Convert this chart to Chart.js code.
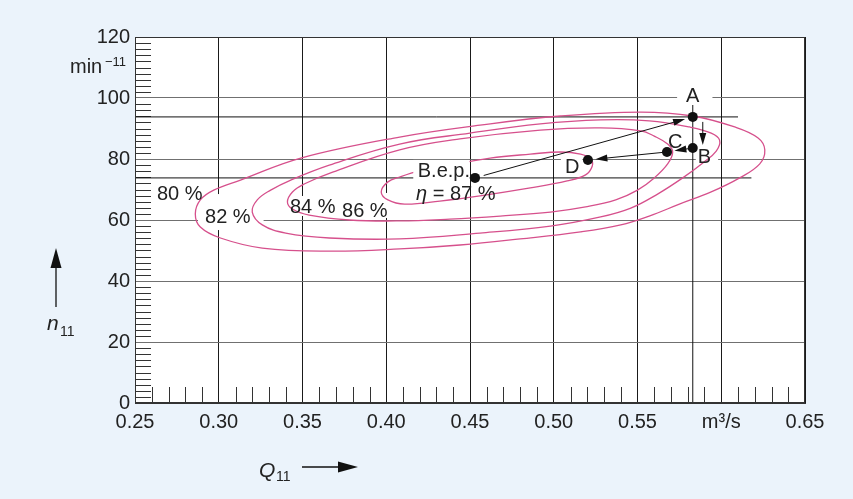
<!DOCTYPE html>
<html><head><meta charset="utf-8">
<script src="https://cdn.jsdelivr.net/npm/chart.js@4.4.1/dist/chart.umd.min.js"></script>
<style>html,body{margin:0;padding:0;background:#EBF3FB;}canvas{display:block;}</style>
</head><body>
<canvas id="c" width="853" height="499"></canvas>
<script>
// ---- data ----
const xTicks = [0.25, 0.30, 0.35, 0.40, 0.45, 0.50, 0.55, 0.60, 0.65];
const xTickLabels = ['0.25', '0.30', '0.35', '0.40', '0.45', '0.50', '0.55', 'm³/s', '0.65'];
const yTicks = [0, 20, 40, 60, 80, 100, 120];
const yTickLabels = ['0', '20', '40', '60', '80', '100', '120'];

// efficiency contours (Q11 in m3/s, n11 in min-1)
const eta80Q = [0.408,0.366,0.326,0.301,0.289,0.286,0.289,0.297,0.313,0.349,0.408,0.456,0.504,0.552,0.583,0.608,0.622,0.626,0.623,0.611,0.594,0.575,0.557,0.540,0.516,0.480,0.444,0.408];
const eta80N = [50.5,49.8,50.8,54.1,57.7,62.0,66.6,69.8,73.1,80.3,87.2,91.1,94.1,95.4,94.1,90.5,86.9,83.0,78.4,73.8,69.2,65.2,61.3,58.4,56.1,53.8,51.8,50.5];
const eta82Q = [0.408,0.366,0.340,0.326,0.320,0.323,0.331,0.343,0.366,0.408,0.450,0.492,0.528,0.557,0.581,0.594,0.599,0.597,0.589,0.577,0.562,0.546,0.528,0.498,0.456,0.408];
const eta82N = [53.8,54.1,55.7,58.4,62.6,66.6,69.8,73.1,78.0,84.9,88.5,91.5,92.8,92.5,90.5,88.5,86.2,82.6,78.7,73.8,68.5,63.9,61.0,58.0,55.7,53.8];
const eta84Q = [0.408,0.378,0.354,0.344,0.341,0.344,0.351,0.368,0.408,0.444,0.492,0.528,0.552,0.560,0.568,0.571,0.568,0.560,0.550,0.537,0.519,0.498,0.468,0.438,0.408];
const eta84N = [59.7,60.0,61.6,63.6,65.9,69.2,71.8,75.7,83.0,86.6,89.5,90.2,89.2,87.5,84.9,82.3,78.4,73.8,69.8,66.6,64.3,62.6,61.3,60.3,59.7];
const eta86Q = [0.432,0.411,0.401,0.397,0.401,0.408,0.420,0.438,0.462,0.486,0.504,0.516,0.522,0.523,0.519,0.508,0.486,0.456,0.432];
const eta86N = [66.2,65.2,66.6,69.2,72.5,74.1,76.1,78.0,80.3,81.6,82.3,81.6,80.0,77.7,74.8,72.8,70.5,67.9,66.2];
const contourLabels = ['80 %', '82 %', '84 %', '86 %'];
const contourLabelQ = [0.2631, 0.2918, 0.3425, 0.3736];
const contourLabelN = [66.6, 59.0, 62.3, 61.0];

// operating points
const pointNames = ['A', 'B', 'C', 'D', 'B.e.p.'];
const pointQ = [0.583, 0.583, 0.5676, 0.5204, 0.453];
const pointN = [93.8, 83.6, 82.3, 79.7, 73.8];
const bepText = ['η', ' = 87 %'];
// guide lines
const guideAEndQ = 0.610;
const guideBepEndQ = 0.618;
const guideVTopN = 97.7;
// arrows (from -> to, indices into pointNames)
const arrowFrom = [4, 0, 1, 2];
const arrowTo   = [0, 1, 2, 3];

// ---- styling ----
const FONT = '"Liberation Sans", Arial, Helvetica, sans-serif';
const PINK = '#D6508C';
const TXT = '#222';

const xy = (q, n) => q.map((v, i) => ({x: v, y: n[i]}));
// closed contour: repeat two points past the start so the loop joins smoothly,
// hiding the first and the last (duplicate) segment
const contourDs = (q, n) => {
  const pts = xy(q, n);
  const m = pts.length;
  const data = pts.concat([pts[1], pts[2]]);
  return {data, showLine: true, borderColor: PINK, borderWidth: 1.3,
    pointRadius: 0, pointHoverRadius: 0, tension: 0.4, fill: false,
    segment: {borderColor: c => (c.p0DataIndex === 0 || c.p0DataIndex >= m) ? 'rgba(0,0,0,0)' : PINK}};
};
const guideDs = (pts) => ({data: pts, showLine: true, borderColor: '#111', borderWidth: 1,
  pointRadius: 0, pointHoverRadius: 0, tension: 0, fill: false});

function arrow(ctx, x1, y1, x2, y2, hl, hw) {
  const dx = x2 - x1, dy = y2 - y1, L = Math.hypot(dx, dy), ux = dx / L, uy = dy / L;
  ctx.beginPath(); ctx.moveTo(x1, y1); ctx.lineTo(x2 - ux * hl * 0.8, y2 - uy * hl * 0.8); ctx.stroke();
  ctx.beginPath(); ctx.moveTo(x2, y2);
  ctx.lineTo(x2 - ux * hl - uy * hw, y2 - uy * hl + ux * hw);
  ctx.lineTo(x2 - ux * hl + uy * hw, y2 - uy * hl - ux * hw);
  ctx.closePath(); ctx.fill();
}

function labelSpecs(chart) {
  const {x, y} = chart.scales;
  const px = i => x.getPixelForValue(pointQ[i]), py = i => y.getPixelForValue(pointN[i]);
  const cl = i => ({x: x.getPixelForValue(contourLabelQ[i]), y: y.getPixelForValue(contourLabelN[i])});
  return [
    {t: contourLabels[0], ...cl(0), align: 'left', bg: null},
    {t: contourLabels[1], ...cl(1), align: 'left', bg: [7, 15, 13, 7]},
    {t: contourLabels[2], ...cl(2), align: 'left', bg: [1, 3, 2, 3]},
    {t: contourLabels[3], ...cl(3), align: 'left', bg: [2, 10, 2, 1]},
    {t: pointNames[0], x: px(0), y: py(0) - 15, align: 'center', bg: [9, 2, 13, 2]},
    {t: pointNames[1], x: px(1) + 5, y: py(1) + 15, align: 'left', bg: [2, 2, 7, 3]},
    {t: pointNames[2], x: px(2) + 1, y: py(2) - 4, align: 'left', bg: null},
    {t: pointNames[3], x: px(3) - 23, y: py(3) + 13, align: 'left', bg: [4, 4, 3, 3]},
  ];
}
function boxOf(ctx, s) {
  const w = ctx.measureText(s.t).width, cap = 14;
  const left = s.align === 'center' ? s.x - w / 2 : s.x;
  return [left - s.bg[0], s.y - cap - s.bg[1], w + s.bg[0] + s.bg[2], cap + s.bg[1] + s.bg[3]];
}

const deco = {
  id: 'deco',
  beforeDraw(chart) {
    const {ctx, chartArea: a} = chart;
    ctx.save();
    ctx.fillStyle = '#EBF3FB'; ctx.fillRect(0, 0, chart.width, chart.height);
    ctx.fillStyle = '#fff'; ctx.fillRect(a.left, a.top, a.right - a.left, a.bottom - a.top);
    ctx.restore();
  },
  beforeDatasetsDraw(chart) {
    const {ctx, chartArea: a, scales: {x, y}} = chart;
    ctx.save();
    ctx.strokeStyle = '#333'; ctx.lineWidth = 1;
    ctx.beginPath();
    for (let k = 1; k < 60; k++) {
      if (k % 10 === 0) continue;
      const p = Math.round(y.getPixelForValue(k * 2)) + 0.5;
      ctx.moveTo(a.left, p); ctx.lineTo(a.left + 16, p);
    }
    for (let k = 26; k < 65; k++) {
      if (k % 5 === 0) continue;
      const p = Math.round(x.getPixelForValue(k / 100)) + 0.5;
      ctx.moveTo(p, a.bottom); ctx.lineTo(p, a.bottom - 16);
    }
    ctx.stroke();
    ctx.font = '20px ' + FONT;
    ctx.fillStyle = '#fff';
    for (const s of labelSpecs(chart)) {
      if (!s.bg) continue;
      const b = boxOf(ctx, s);
      ctx.fillRect(b[0], b[1], b[2], b[3]);
    }
    ctx.restore();
  },
  afterDatasetsDraw(chart) {
    const {ctx, scales: {x, y}} = chart;
    const px = i => x.getPixelForValue(pointQ[i]), py = i => y.getPixelForValue(pointN[i]);
    ctx.save();
    ctx.strokeStyle = '#111'; ctx.fillStyle = '#111'; ctx.lineWidth = 1;
    for (let k = 0; k < arrowFrom.length; k++) {
      const i = arrowFrom[k], j = arrowTo[k];
      let x1 = px(i), y1 = py(i), x2 = px(j), y2 = py(j);
      if (i === 0 && j === 1) {
        arrow(ctx, x1 + 10, y1 + 5, x2 + 10, y2 - 3, 12, 3.5);
        continue;
      }
      const L = Math.hypot(x2 - x1, y2 - y1), ux = (x2 - x1) / L, uy = (y2 - y1) / L;
      const s0 = i === 4 ? 9 : 4, s1 = j === 0 ? 8 : 7.5;
      arrow(ctx, x1 + ux * s0, y1 + uy * s0, x2 - ux * s1, y2 - uy * s1, 12, 3.5);
    }
    ctx.font = '20px ' + FONT; ctx.fillStyle = TXT; ctx.textBaseline = 'alphabetic';
    for (const s of labelSpecs(chart)) {
      ctx.textAlign = s.align; ctx.fillText(s.t, s.x, s.y);
    }
    const bx = px(4), by = py(4);
    ctx.textAlign = 'right';
    const w = ctx.measureText(pointNames[4]).width;
    ctx.fillStyle = '#fff';
    ctx.fillRect(bx - 5.5 - w - 4, by - 18, w + 4, 22);
    ctx.fillStyle = TXT;
    ctx.fillText(pointNames[4], bx - 5, by - 1);
    ctx.textAlign = 'left';
    ctx.font = 'italic 20px ' + FONT;
    ctx.fillText(bepText[0], bx - 59, by + 22);
    const we = ctx.measureText(bepText[0]).width;
    ctx.font = '20px ' + FONT;
    ctx.fillText(bepText[1], bx - 59 + we, by + 22);
    ctx.restore();
  },
  afterDraw(chart) {
    const {ctx, chartArea: a} = chart;
    ctx.save();
    ctx.strokeStyle = '#333'; ctx.lineWidth = 1;
    ctx.strokeRect(Math.round(a.left) + 0.5, Math.round(a.top) + 0.5, Math.round(a.right - a.left) - 1, Math.round(a.bottom - a.top) - 1);
    ctx.fillStyle = TXT; ctx.textAlign = 'left'; ctx.textBaseline = 'alphabetic';
    ctx.font = '20px ' + FONT; ctx.fillText('min', 70, 73);
    ctx.font = '13px ' + FONT; ctx.fillText('−11', 105, 66);
    ctx.font = 'italic 21px ' + FONT; ctx.fillText('n', 47, 330);
    ctx.font = '14px ' + FONT; ctx.fillText('11', 60, 336);
    ctx.fillStyle = '#111'; ctx.strokeStyle = '#111'; ctx.lineWidth = 1.3;
    arrow(ctx, 56, 307, 56, 248, 20, 5.5);
    ctx.fillStyle = TXT;
    ctx.font = 'italic 21px ' + FONT; ctx.fillText('Q', 259, 477);
    ctx.font = '14px ' + FONT; ctx.fillText('11', 276, 481);
    ctx.fillStyle = '#111';
    arrow(ctx, 302, 467, 358, 467, 20, 5.5);
    ctx.restore();
  }
};

new Chart(document.getElementById('c'), {
  type: 'scatter',
  data: {
    datasets: [
      {data: xy(pointQ, pointN), pointRadius: 5, pointHoverRadius: 5, backgroundColor: '#111', borderWidth: 0, showLine: false},
      contourDs(eta86Q, eta86N),
      contourDs(eta84Q, eta84N),
      contourDs(eta82Q, eta82N),
      contourDs(eta80Q, eta80N),
      guideDs([{x: xTicks[0], y: pointN[0]}, {x: guideAEndQ, y: pointN[0]}]),
      guideDs([{x: xTicks[0], y: pointN[4]}, {x: guideBepEndQ, y: pointN[4]}]),
      guideDs([{x: pointQ[0], y: yTicks[0]}, {x: pointQ[0], y: guideVTopN}])
    ]
  },
  options: {
    responsive: false, animation: false, devicePixelRatio: 1,
    layout: {padding: {left: 0, right: 48, top: 37, bottom: 0}},
    plugins: {legend: {display: false}, tooltip: {enabled: false}},
    events: [],
    scales: {
      x: {
        type: 'linear', min: 0.25, max: 0.65,
        afterBuildTicks: s => { s.ticks = xTicks.map(v => ({value: v})); },
        afterFit: s => { s.height = 96; },
        ticks: {autoSkip: false, maxRotation: 0, minRotation: 0, padding: 7, color: TXT,
          font: {family: FONT, size: 20}, callback: (v, i) => xTickLabels[i]},
        grid: {color: '#1a1a1a', lineWidth: 1, drawTicks: false},
        border: {display: true, color: '#333', width: 1}
      },
      y: {
        type: 'linear', min: 0, max: 120,
        afterBuildTicks: s => { s.ticks = yTicks.map(v => ({value: v})); },
        afterFit: s => { s.width = 135; },
        ticks: {autoSkip: false, padding: 5, color: TXT,
          font: {family: FONT, size: 20}, callback: (v, i) => yTickLabels[i]},
        grid: {color: '#707070', lineWidth: 1, drawTicks: false},
        border: {display: true, color: '#333', width: 1}
      }
    }
  },
  plugins: [deco]
});
</script>
</body></html>
